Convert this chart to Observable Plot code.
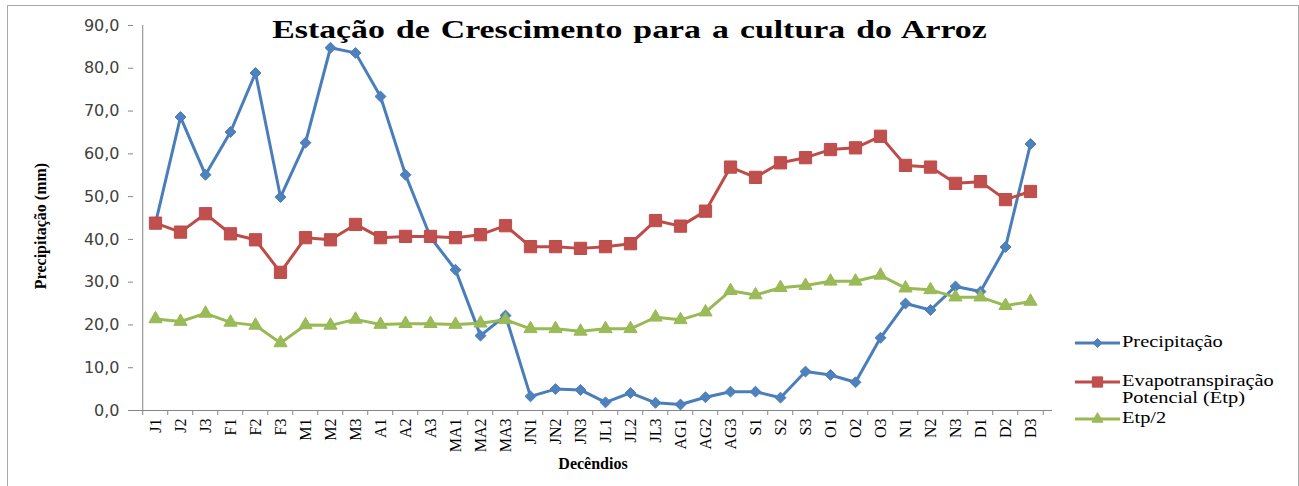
<!DOCTYPE html>
<html><head><meta charset="utf-8">
<script src="https://cdn.jsdelivr.net/npm/d3@7"></script>
<script src="https://cdn.jsdelivr.net/npm/@observablehq/plot@0.6"></script>
<style>
body{margin:0;background:#fff;}
#wrap{position:relative;width:1299px;height:486px;overflow:hidden;background:#fff;}
#chart{position:absolute;left:0;top:0;}
#border{position:absolute;left:7px;top:5px;width:1290px;height:490px;border-left:1px solid #a8a8a8;border-top:1px solid #a8a8a8;border-right:1px solid #a8a8a8;}
#title{position:absolute;left:0;width:1259px;top:15px;text-align:center;font:bold 26px "Liberation Serif",serif;word-spacing:2px;color:#000;white-space:nowrap;transform:scaleX(1.3);transform-origin:629.5px 0;line-height:30px;}
#legend{position:absolute;left:1075px;top:0;font:17px "Liberation Serif",serif;color:#000;}
.li{position:absolute;left:0;display:flex;align-items:flex-start;white-space:nowrap;line-height:16.5px;}
.li svg{flex:none;margin-right:2px;}
.li .tx{transform:scaleX(1.2);transform-origin:0 0;}
g[aria-label="xtitle"] text{letter-spacing:2.5px;}
g[aria-label="ytitle"] text{letter-spacing:0.3px;}
</style></head>
<body><div id="wrap"><div id="border"></div><div id="chart"></div><div id="title">Estação de Crescimento para a cultura do Arroz</div><div id="legend"></div></div>
<script>
const cats = ["J1","J2","J3","F1","F2","F3","M1","M2","M3","A1","A2","A3","MA1","MA2","MA3","JN1","JN2","JN3","JL1","JL2","JL3","AG1","AG2","AG3","S1","S2","S3","O1","O2","O3","N1","N2","N3","D1","D2","D3"];
const precipitacao = [43.8,68.6,55.1,65.1,78.9,49.9,62.6,84.8,83.6,73.4,55.1,40.5,32.9,17.5,22.2,3.3,5.0,4.8,1.9,4.1,1.8,1.4,3.1,4.4,4.4,3.0,9.1,8.3,6.6,17.0,25.0,23.5,29.0,27.8,38.2,62.3];
const etp = [43.8,41.7,46.0,41.3,39.9,32.3,40.4,39.9,43.5,40.4,40.7,40.7,40.4,41.1,43.2,38.3,38.3,37.9,38.3,39.0,44.4,43.1,46.6,56.9,54.5,57.9,59.1,61.0,61.4,64.1,57.3,56.9,53.1,53.5,49.3,51.2];
const etpMeio = [21.4,20.8,22.7,20.6,19.9,15.8,20.0,19.9,21.3,20.1,20.3,20.3,20.1,20.4,21.2,19.1,19.1,18.5,19.1,19.1,21.8,21.2,23.0,28.0,27.0,28.7,29.2,30.2,30.2,31.6,28.6,28.2,26.5,26.5,24.5,25.5];
const seriesNames = ["Precipitação","Evapotranspiração Potencial (Etp)","Etp/2"];
const yTicks = [0,10,20,30,40,50,60,70,80,90];

const seriesValues = [precipitacao, etp, etpMeio];
const lineColors = ["#4A7EBB","#BE4B48","#98B954"];
const fillColors = ["#4F81BD","#C0504D","#9BBB59"];
const symbols = ["diamond2","square","triangle"];
const radii = [4.9, 6.9, 4.9];

const W = 1299, H = 486, mL = 133, mR = 247, mT = 25, mB = 76;
const step = (W - mL - mR) / cats.length;

const marks = [];
seriesValues.forEach((vals, k) => {
  const rows = vals.map((v, i) => ({cat: cats[i], v}));
  marks.push(Plot.line(rows, {x: "cat", y: "v", stroke: lineColors[k], strokeWidth: 3}));
  marks.push(Plot.dot(rows, {x: "cat", y: "v", symbol: symbols[k], r: radii[k], fill: fillColors[k], stroke: lineColors[k], strokeWidth: 1}));
});

const chart = Plot.plot({
  width: W, height: H,
  marginLeft: mL, marginRight: mR, marginTop: mT, marginBottom: mB,
  style: {background: "transparent", overflow: "visible"},
  x: {type: "point", domain: cats, padding: 0.5, align: 0.5},
  y: {domain: [0, 90]},
  marks: [
    Plot.ruleY([0], {stroke: "#868686", strokeWidth: 1}),
    Plot.ruleX([cats[0]], {dx: -step/2, stroke: "#868686", strokeWidth: 1}),
    Plot.axisY({ticks: yTicks, tickSize: 5, tickFormat: () => "", color: "#868686", label: null}),
    Plot.axisY({ticks: yTicks, tickSize: 0, tickPadding: 14, tickFormat: d => d.toFixed(1).replace(".", ","), color: "#404040", fontSize: 16, fontFamily: "DejaVu Sans", label: null}),
    Plot.axisX({ticks: cats, tickSize: 5, tickFormat: () => "", dx: -step/2, color: "#868686", label: null}),
    Plot.axisX({ticks: [cats[cats.length-1]], tickSize: 5, tickFormat: () => "", dx: step/2, color: "#868686", label: null}),
    Plot.axisX({ticks: cats, tickSize: 0, tickPadding: 8, tickRotate: -90, color: "#000", fontSize: 16, fontFamily: "Liberation Serif", label: null}),
    Plot.text(["Precipitação (mm)"], {frameAnchor: "left", textAnchor: "middle", dx: -93, dy: 8, rotate: -90, fontWeight: "bold", fontFamily: "Liberation Serif", fontSize: 16, fill: "#000", ariaLabel: "ytitle"}),
    Plot.text(["Decêndios"], {frameAnchor: "bottom", textAnchor: "middle", dy: 58, fontWeight: "bold", fontFamily: "Liberation Serif", fontSize: 16, fill: "#000", ariaLabel: "xtitle"}),
    ...marks
  ]
});
document.getElementById("chart").appendChild(chart);

// legend
const legend = document.getElementById("legend");
const tops = [334, 373, 410];
const symMap = {diamond2: d3.symbolDiamond2, square: d3.symbolSquare, triangle: d3.symbolTriangle};
seriesNames.forEach((name, k) => {
  const item = document.createElement("div");
  item.className = "li";
  item.style.top = tops[k] + "px";
  const sw = d3.create("svg").attr("width", 45).attr("height", 17);
  sw.append("line").attr("x1", 0).attr("x2", 45).attr("y1", 9).attr("y2", 9).attr("stroke", lineColors[k]).attr("stroke-width", 3);
  sw.append("path").attr("transform", "translate(22.5,9)")
    .attr("d", d3.symbol(symMap[symbols[k]], Math.PI * radii[k] * radii[k] * 0.7)())
    .attr("fill", fillColors[k]).attr("stroke", lineColors[k]);
  item.appendChild(sw.node());
  const t = document.createElement("div");
  t.className = "tx";
  if (k === 1) { t.innerHTML = "Evapotranspiração<br>Potencial (Etp)"; } else { t.textContent = name; }
  item.appendChild(t);
  legend.appendChild(item);
});
</script>
</body></html>
